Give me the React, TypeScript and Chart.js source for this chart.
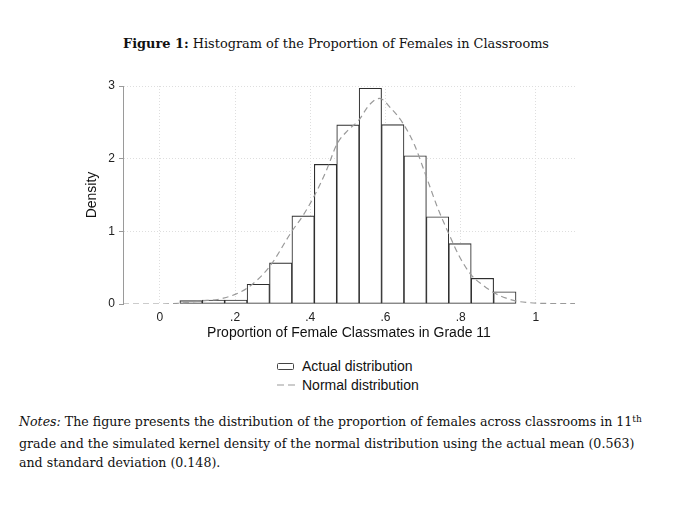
import { useEffect, useRef } from "react"
import { Chart, registerables } from "chart.js"

Chart.register(...registerables)

// histogram bins (centres) and densities
const binCenters = [0.083, 0.1426, 0.2022, 0.2618, 0.3214, 0.381, 0.4406, 0.5002, 0.5598, 0.6194, 0.679, 0.7386, 0.7982, 0.8578, 0.9174]
const binDensity = [0.046, 0.055, 0.055, 0.272, 0.566, 1.213, 1.921, 2.465, 2.968, 2.468, 2.04, 1.2, 0.83, 0.352, 0.168]

// simulated normal density (dashed curve)
const curveX = [-0.098, 0, 0.05, 0.107, 0.169, 0.231, 0.291, 0.351, 0.381, 0.412, 0.443, 0.471, 0.5, 0.529, 0.557, 0.584, 0.615, 0.646, 0.677, 0.708, 0.739, 0.768, 0.797, 0.828, 0.859, 0.89, 0.921, 0.948, 0.978, 1.01, 1.104]
const curveY = [0, 0, 0.01, 0.04, 0.08, 0.215, 0.51, 1.0, 1.22, 1.5, 1.84, 2.2, 2.39, 2.53, 2.74, 2.83, 2.69, 2.49, 2.19, 1.76, 1.32, 0.97, 0.65, 0.4, 0.26, 0.15, 0.08, 0.04, 0.02, 0.01, 0.005]

const xTicks = [0, 0.2, 0.4, 0.6, 0.8, 1]
const xTickLabels = ["0", ".2", ".4", ".6", ".8", "1"]
const yTicks = [0, 1, 2, 3]
const yTickLabels = ["0", "1", "2", "3"]

const serif = "'DejaVu Serif', serif"
const sans = "'Liberation Sans', Arial, sans-serif"

function HistogramChart() {
  const chartRef = useRef<HTMLCanvasElement>(null)
  const chartInstance = useRef<Chart | null>(null)

  useEffect(() => {
    if (!chartRef.current) return
    if (chartInstance.current) chartInstance.current.destroy()
    const ctx = chartRef.current.getContext("2d")
    if (!ctx) return

    Chart.defaults.font.family = sans

    chartInstance.current = new Chart(ctx, {
      type: "bar",
      data: {
        datasets: [
          {
            type: "line",
            label: "Normal distribution",
            data: curveX.map((x, i) => ({ x, y: curveY[i] })),
            borderColor: "#9a9a9a",
            borderWidth: 1.2,
            borderDash: [6, 4],
            pointRadius: 0,
            fill: false,
            cubicInterpolationMode: "monotone",
            order: 0,
          },
          {
            type: "bar",
            label: "Actual distribution",
            data: binCenters.map((x, i) => ({ x, y: binDensity[i] })),
            backgroundColor: "#ffffff",
            borderColor: "#2e2e2e",
            borderWidth: 1.1,
            borderSkipped: false,
            barPercentage: 1,
            categoryPercentage: 1,
            order: 1,
          },
        ],
      } as any,
      options: {
        animation: false,
        responsive: true,
        maintainAspectRatio: false,
        layout: { padding: { top: 12, right: 15, left: 0, bottom: 0 } },
        plugins: {
          legend: { display: false },
          tooltip: { enabled: false },
        },
        scales: {
          x: {
            type: "linear",
            min: -0.098,
            max: 1.104,
            offset: false,
            afterBuildTicks: (scale: any) => {
              scale.ticks = xTicks.map((v) => ({ value: v }))
            },
            afterFit: (scale: any) => {
              scale.height = 42
            },
            grid: { offset: false, color: "#dedede", lineWidth: 1, drawTicks: false },
            border: { display: false, dash: [1, 2] },
            ticks: {
              padding: 6,
              color: "#222",
              font: { size: 12 },
              maxRotation: 0,
              autoSkip: false,
              callback: (_v: any, i: number) => xTickLabels[i],
            },
            title: {
              display: true,
              text: "Proportion of Female Classmates in Grade 11",
              color: "#111",
              font: { size: 14 },
              padding: { top: 0, bottom: 4.6 },
            },
          },
          y: {
            type: "linear",
            min: 0,
            max: 3,
            afterBuildTicks: (scale: any) => {
              scale.ticks = yTicks.map((v) => ({ value: v }))
            },
            afterFit: (scale: any) => {
              scale.width = 63
            },
            grid: {
              color: (c: any) => (c.tick && c.tick.value === 0 ? "rgba(0,0,0,0)" : "#dedede"),
              lineWidth: 1,
              drawTicks: true,
              tickLength: 4,
              tickColor: "#9a9a9a",
              tickWidth: 1,
              tickBorderDash: [],
            },
            border: { display: true, color: "#9a9a9a", width: 1, dash: [1, 2] },
            ticks: {
              padding: 4,
              color: "#222",
              font: { size: 12 },
              autoSkip: false,
              callback: (_v: any, i: number) => yTickLabels[i],
            },
            title: {
              display: true,
              text: "Density",
              color: "#111",
              font: { size: 14 },
              padding: { top: 23.6, bottom: 0 },
            },
          },
        },
      } as any,
    })

    return () => {
      if (chartInstance.current) {
        chartInstance.current.destroy()
        chartInstance.current = null
      }
    }
  }, [])

  return (
    <div style={{ position: "absolute", left: 60, top: 74, width: 530, height: 272 }}>
      <canvas ref={chartRef} />
    </div>
  )
}

export default function App() {
  return (
    <div style={{ position: "absolute", left: 0, top: 0, width: 680, height: 506, background: "#fff", color: "#111" }}>
      <div style={{ position: "absolute", left: 123, top: 35, whiteSpace: "nowrap", fontFamily: serif, fontSize: 12.9, lineHeight: "17px" }}>
        <b>Figure 1:</b> Histogram of the Proportion of Females in Classrooms
      </div>

      <HistogramChart />

      {/* legend */}
      <div style={{ position: "absolute", left: 277, top: 362.5, width: 15, height: 5, border: "1px solid #444", borderRadius: 1.5 }} />
      <div style={{ position: "absolute", left: 302, top: 358, fontFamily: sans, fontSize: 14, lineHeight: "17px", whiteSpace: "nowrap" }}>
        Actual distribution
      </div>
      <svg style={{ position: "absolute", left: 277, top: 383 }} width={18} height={4}>
        <line x1={0} y1={2} x2={18} y2={2} stroke="#9a9a9a" strokeWidth={1.2} strokeDasharray="7 4" />
      </svg>
      <div style={{ position: "absolute", left: 302, top: 376.5, fontFamily: sans, fontSize: 14, lineHeight: "17px", whiteSpace: "nowrap" }}>
        Normal distribution
      </div>

      <div style={{ position: "absolute", left: 19, top: 412, fontFamily: serif, fontSize: 12.6, lineHeight: "19.5px", whiteSpace: "nowrap" }}>
        <i>Notes:</i> The figure presents the distribution of the proportion of females across classrooms in 11
        <span style={{ fontSize: "0.72em", position: "relative", top: "-0.45em" }}>th</span>
        <br />
        grade and the simulated kernel density of the normal distribution using the actual mean (0.563)
        <br />
        and standard deviation (0.148).
      </div>
    </div>
  )
}
